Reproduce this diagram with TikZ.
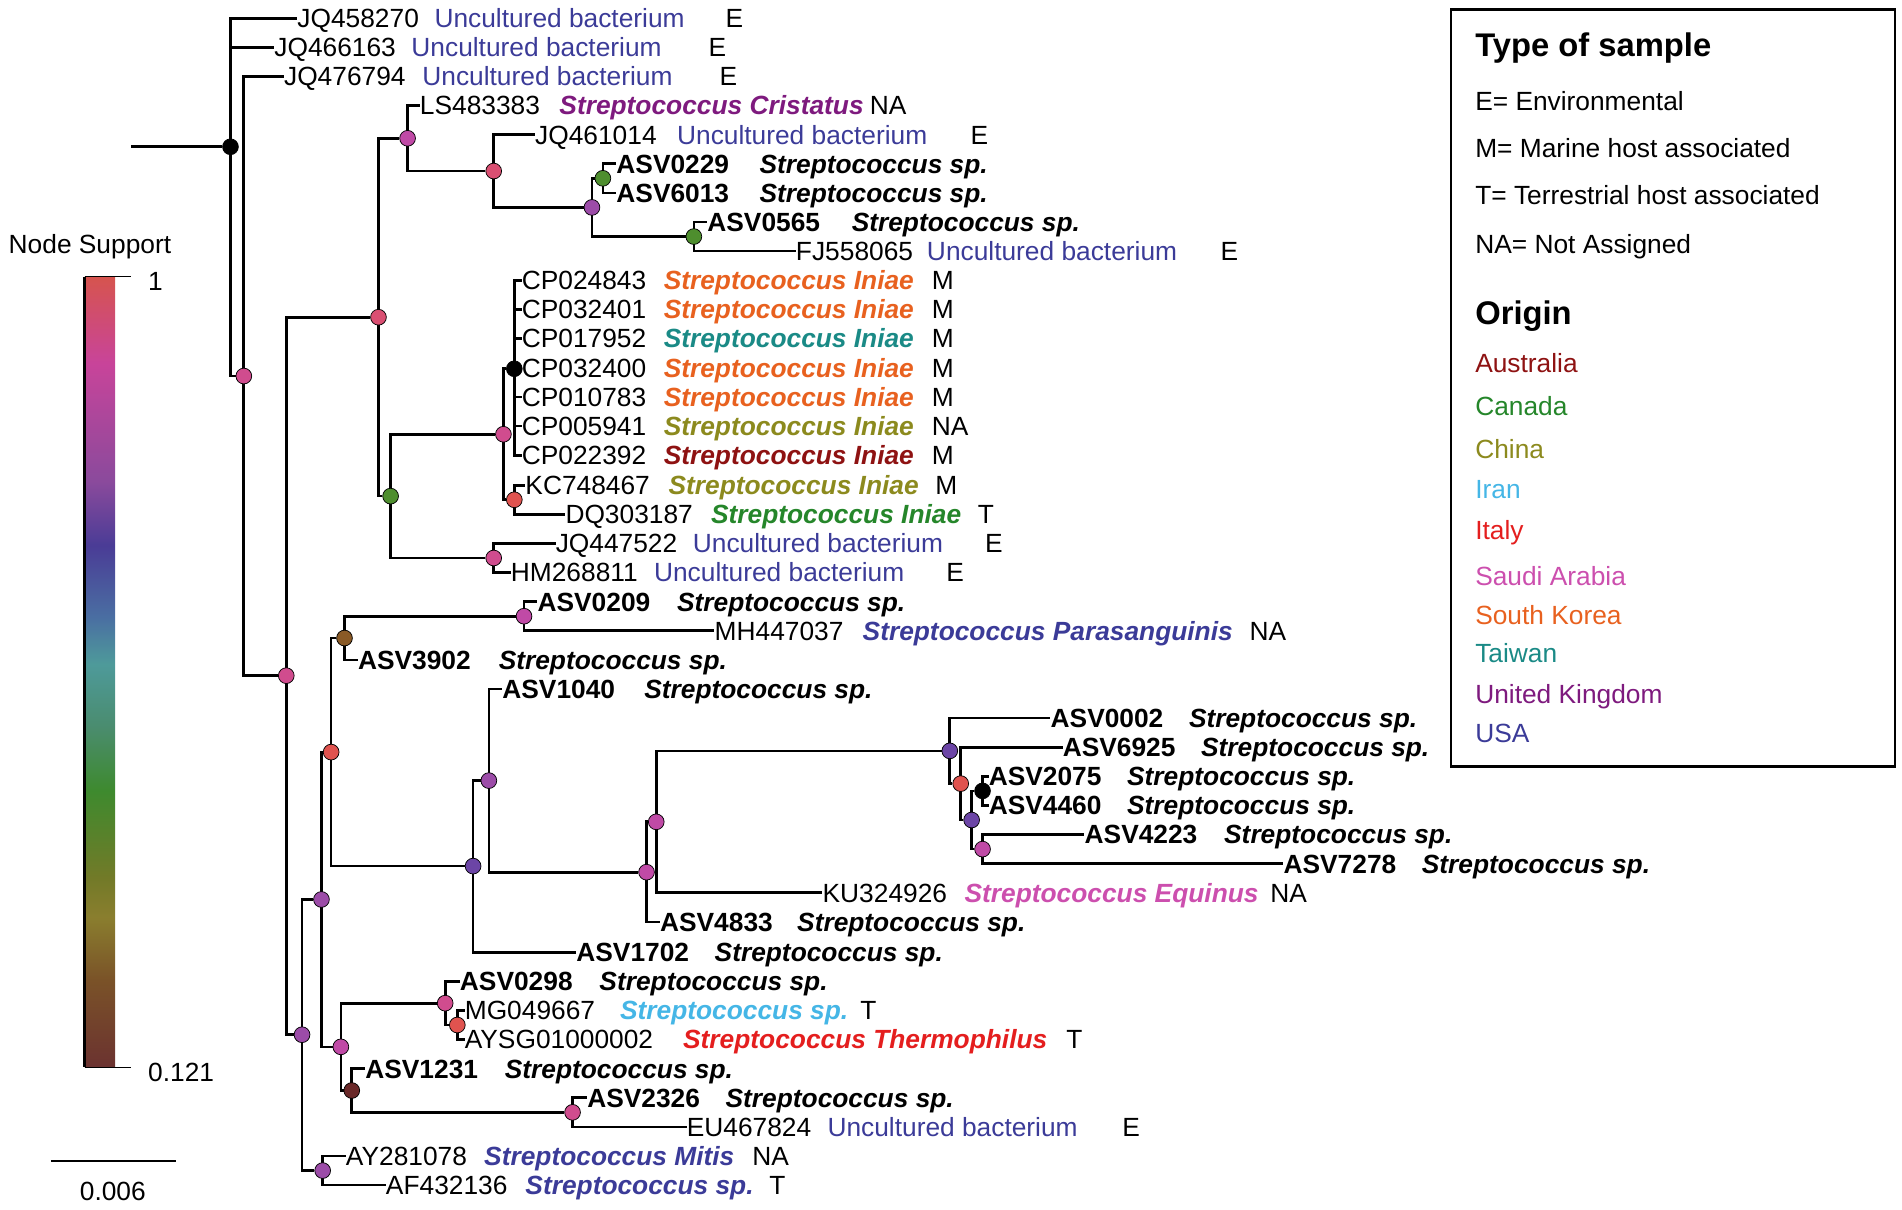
\documentclass[tikz,border=0pt]{standalone}
\usepackage{fontspec}
\setmainfont{Liberation Sans}
\usetikzlibrary{backgrounds}

% colours of the origins
\definecolor{usa}{HTML}{3B3B98}
\definecolor{uk}{HTML}{7E1A7E}
\definecolor{skorea}{HTML}{E8611F}
\definecolor{taiwan}{HTML}{1A8A86}
\definecolor{china}{HTML}{8C8A1E}
\definecolor{australia}{HTML}{8E1212}
\definecolor{canada}{HTML}{25862A}
\definecolor{iran}{HTML}{45B6E6}
\definecolor{italy}{HTML}{E41E1E}
\definecolor{saudi}{HTML}{CC4FAE}

% colours of the node support
\definecolor{sred}{HTML}{E0534F}
\definecolor{sros}{HTML}{DA4F72}
\definecolor{spink}{HTML}{D04C8E}
\definecolor{smag}{HTML}{C04AA6}
\definecolor{spur}{HTML}{9C4CA8}
\definecolor{svio}{HTML}{6C45A6}
\definecolor{sgreen}{HTML}{4E8E2E}
\definecolor{sbrown}{HTML}{8A5A26}
\definecolor{sdark}{HTML}{6A2828}

% colours of the support bar, bottom to top
\definecolor{sb0}{HTML}{6B3230}
\definecolor{sb1}{HTML}{7A5228}
\definecolor{sb2}{HTML}{8A7E2E}
\definecolor{sb3}{HTML}{727A28}
\definecolor{sb4}{HTML}{3E8A2E}
\definecolor{sb5}{HTML}{4A8C6E}
\definecolor{sb6}{HTML}{4E9A9A}
\definecolor{sb7}{HTML}{4A6EA2}
\definecolor{sb8}{HTML}{4A3C96}
\definecolor{sb9}{HTML}{8A4A9C}
\definecolor{sb10}{HTML}{C8449A}
\definecolor{sb11}{HTML}{D6544E}
\pgfdeclareverticalshading{supportbar}{100bp}{color(0bp)=(sb0); color(25bp)=(sb0);
  color(30.5bp)=(sb1); color(34.5bp)=(sb2); color(37bp)=(sb3); color(42.5bp)=(sb4);
  color(46.5bp)=(sb5); color(50.5bp)=(sb6); color(53.5bp)=(sb7); color(58bp)=(sb8);
  color(62bp)=(sb9); color(69.5bp)=(sb10); color(75bp)=(sb11); color(100bp)=(sb11)}

\newcommand{\labfont}{\fontsize{21.7}{26}\selectfont}
\newcommand{\headfont}{\fontsize{27}{32}\selectfont\bfseries}

\tikzset{
  branch/.style={line width=2.2pt},
  supp/.style={circle, draw=black, line width=0.6pt, fill=#1, minimum size=13pt, inner sep=0pt},
  tip/.style={anchor=west, inner sep=0pt, text height=15.5pt, text depth=0pt, font=\labfont},
  asv/.style={tip, font=\labfont\bfseries},
  spec/.style={tip, font=\labfont\bfseries\itshape, text=#1},
  spec/.default=black,
  uncult/.style={tip, text=usa},
  legtitle/.style={anchor=west, inner sep=0pt, text height=19.5pt, text depth=0pt, font=\headfont},
  legitem/.style={tip, text=#1},
  legitem/.default=black,
}

\begin{document}
\begin{tikzpicture}[x=1pt, y=-1pt]
    \useasboundingbox (0,0) rectangle (1568,997);

    % Internal nodes, filled by their support
    \node[supp=black]  (root)  at (190,121) {};
    \node[supp=spink]  (nA)    at (201,310) {};
    \node[supp=spink]  (nB)    at (236,557) {};
    \node[supp=sros]   (nC)    at (312,261.5) {};
    \node[supp=smag]   (nD)    at (336,114) {};
    \node[supp=sros]   (nF)    at (407,141) {};
    \node[supp=spur]   (nG)    at (488,171) {};
    \node[supp=sgreen] (nH)    at (497,147) {};
    \node[supp=sgreen] (nI)    at (572,195) {};
    \node[supp=sgreen] (nE)    at (322,409) {};
    \node[supp=spink]  (nJ)    at (415,358) {};
    \node[supp=black]  (nCP)   at (424,304) {};
    \node[supp=sred]   (nKC)   at (424,412) {};
    \node[supp=spink]  (nL)    at (407,460) {};
    \node[supp=spur]   (nK)    at (249,853) {};
    \node[supp=spur]   (nM)    at (265,741.5) {};
    \node[supp=sred]   (nN)    at (273,620) {};
    \node[supp=sbrown] (nBr)   at (284,526) {};
    \node[supp=smag]   (nAS)   at (432,508) {};
    \node[supp=svio]   (n1702) at (390,714) {};
    \node[supp=spur]   (n1040) at (403,643.5) {};
    \node[supp=smag]   (nPk)   at (533,719) {};
    \node[supp=smag]   (nMg)   at (541,677.5) {};
    \node[supp=svio]   (nV)    at (783,619) {};
    \node[supp=sred]   (nR)    at (792,646) {};
    \node[supp=svio]   (nQ)    at (801,676) {};
    \node[supp=black]  (n2075) at (810,652) {};
    \node[supp=smag]   (n4223) at (810,700) {};
    \node[supp=smag]   (nO)    at (281,863) {};
    \node[supp=spink]  (n0298) at (367,827) {};
    \node[supp=sred]   (nTh)   at (377,845) {};
    \node[supp=sdark]  (n1231) at (290,899) {};
    \node[supp=spink]  (n2326) at (472,917) {};
    \node[supp=spur]   (nZ)    at (266,965) {};
    \coordinate (stem) at (108,121);

    % Tips: accession, species, type of sample
    \node[tip] (JQ458270) at (245,15) {JQ458270};
    \node[uncult] (JQ458270-sp) at (358,15) {Uncultured bacterium};
    \node[tip] (JQ458270-ty) at (598,15) {E};
    \node[tip] (JQ466163) at (226,39) {JQ466163};
    \node[uncult] (JQ466163-sp) at (339,39) {Uncultured bacterium};
    \node[tip] (JQ466163-ty) at (584,39) {E};
    \node[tip] (JQ476794) at (234,63) {JQ476794};
    \node[uncult] (JQ476794-sp) at (348,63) {Uncultured bacterium};
    \node[tip] (JQ476794-ty) at (593,63) {E};
    \node[tip] (LS483383) at (346,87) {LS483383};
    \node[spec=uk] (LS483383-sp) at (461,87) {Streptococcus Cristatus};
    \node[tip] (LS483383-ty) at (717,87) {NA};
    \node[tip] (JQ461014) at (441,111) {JQ461014};
    \node[uncult] (JQ461014-sp) at (558,111) {Uncultured bacterium};
    \node[tip] (JQ461014-ty) at (800,111) {E};
    \node[asv] (ASV0229) at (508,135) {ASV0229};
    \node[spec] (ASV0229-sp) at (626,135) {Streptococcus sp.};
    \node[asv] (ASV6013) at (508,159) {ASV6013};
    \node[spec] (ASV6013-sp) at (626,159) {Streptococcus sp.};
    \node[asv] (ASV0565) at (583,183) {ASV0565};
    \node[spec] (ASV0565-sp) at (702,183) {Streptococcus sp.};
    \node[tip] (FJ558065) at (656,207) {FJ558065};
    \node[uncult] (FJ558065-sp) at (764,207) {Uncultured bacterium};
    \node[tip] (FJ558065-ty) at (1006,207) {E};
    \foreach \acc/\col/\ty [count=\i from 0] in {CP024843/skorea/M, CP032401/skorea/M,
        CP017952/taiwan/M, CP032400/skorea/M, CP010783/skorea/M, CP005941/china/NA,
        CP022392/australia/M} {
        \node[tip] (\acc) at (430,{231+24.05*\i}) {\acc};
        \node[spec=\col] (\acc-sp) at (547,{231+24.05*\i}) {Streptococcus Iniae};
        \node[tip] (\acc-ty) at (768,{231+24.05*\i}) {\ty};
    }
    \node[tip] (KC748467) at (433,400) {KC748467};
    \node[spec=china] (KC748467-sp) at (551,400) {Streptococcus Iniae};
    \node[tip] (KC748467-ty) at (771,400) {M};
    \node[tip] (DQ303187) at (466,424) {DQ303187};
    \node[spec=canada] (DQ303187-sp) at (586,424) {Streptococcus Iniae};
    \node[tip] (DQ303187-ty) at (806,424) {T};
    \node[tip] (JQ447522) at (458,448) {JQ447522};
    \node[uncult] (JQ447522-sp) at (571,448) {Uncultured bacterium};
    \node[tip] (JQ447522-ty) at (812,448) {E};
    \node[tip] (HM268811) at (421,472) {HM268811};
    \node[uncult] (HM268811-sp) at (539,472) {Uncultured bacterium};
    \node[tip] (HM268811-ty) at (780,472) {E};
    \node[asv] (ASV0209) at (443,496) {ASV0209};
    \node[spec] (ASV0209-sp) at (558,496) {Streptococcus sp.};
    \node[tip] (MH447037) at (589,520) {MH447037};
    \node[spec=usa] (MH447037-sp) at (711,520) {Streptococcus Parasanguinis};
    \node[tip] (MH447037-ty) at (1030,520) {NA};
    \node[asv] (ASV3902) at (295,544) {ASV3902};
    \node[spec] (ASV3902-sp) at (411,544) {Streptococcus sp.};
    \node[asv] (ASV1040) at (414,568) {ASV1040};
    \node[spec] (ASV1040-sp) at (531,568) {Streptococcus sp.};
    \node[asv] (ASV0002) at (866,592) {ASV0002};
    \node[spec] (ASV0002-sp) at (980,592) {Streptococcus sp.};
    \node[asv] (ASV6925) at (876,616) {ASV6925};
    \node[spec] (ASV6925-sp) at (990,616) {Streptococcus sp.};
    \node[asv] (ASV2075) at (815,640) {ASV2075};
    \node[spec] (ASV2075-sp) at (929,640) {Streptococcus sp.};
    \node[asv] (ASV4460) at (815,664) {ASV4460};
    \node[spec] (ASV4460-sp) at (929,664) {Streptococcus sp.};
    \node[asv] (ASV4223) at (894,688) {ASV4223};
    \node[spec] (ASV4223-sp) at (1009,688) {Streptococcus sp.};
    \node[asv] (ASV7278) at (1058,712) {ASV7278};
    \node[spec] (ASV7278-sp) at (1172,712) {Streptococcus sp.};
    \node[tip] (KU324926) at (678,736) {KU324926};
    \node[spec=saudi] (KU324926-sp) at (795,736) {Streptococcus Equinus};
    \node[tip] (KU324926-ty) at (1047,736) {NA};
    \node[asv] (ASV4833) at (544,760) {ASV4833};
    \node[spec] (ASV4833-sp) at (657,760) {Streptococcus sp.};
    \node[asv] (ASV1702) at (475,785) {ASV1702};
    \node[spec] (ASV1702-sp) at (589,785) {Streptococcus sp.};
    \node[asv] (ASV0298) at (379,809) {ASV0298};
    \node[spec] (ASV0298-sp) at (494,809) {Streptococcus sp.};
    \node[tip] (MG049667) at (383,833) {MG049667};
    \node[spec=iran] (MG049667-sp) at (511,833) {Streptococcus sp.};
    \node[tip] (MG049667-ty) at (709,833) {T};
    \node[tip] (AYSG01000002) at (383,857) {AYSG01000002};
    \node[spec=italy] (AYSG01000002-sp) at (563,857) {Streptococcus Thermophilus};
    \node[tip] (AYSG01000002-ty) at (879,857) {T};
    \node[asv] (ASV1231) at (301,881) {ASV1231};
    \node[spec] (ASV1231-sp) at (416,881) {Streptococcus sp.};
    \node[asv] (ASV2326) at (484,905) {ASV2326};
    \node[spec] (ASV2326-sp) at (598,905) {Streptococcus sp.};
    \node[tip] (EU467824) at (566,929) {EU467824};
    \node[uncult] (EU467824-sp) at (682,929) {Uncultured bacterium};
    \node[tip] (EU467824-ty) at (925,929) {E};
    \node[tip] (AY281078) at (285,953) {AY281078};
    \node[spec=usa] (AY281078-sp) at (399,953) {Streptococcus Mitis};
    \node[tip] (AY281078-ty) at (620,953) {NA};
    \node[tip] (AF432136) at (318,977) {AF432136};
    \node[spec=usa] (AF432136-sp) at (433,977) {Streptococcus sp.};
    \node[tip] (AF432136-ty) at (634,977) {T};

    % Branches, behind the nodes
    \begin{scope}[on background layer]
        \draw[branch] (stem) -- (root);
        \foreach \p/\c in {root/JQ458270, root/JQ466163, root/nA, nA/JQ476794, nA/nB,
            nB/nC, nB/nK, nC/nD, nC/nE, nD/LS483383, nD/nF, nF/JQ461014, nF/nG,
            nG/nH, nG/nI, nH/ASV0229, nH/ASV6013, nI/ASV0565, nI/FJ558065,
            nE/nJ, nE/nL, nJ/nCP, nJ/nKC, nCP/CP024843, nCP/CP032401, nCP/CP017952,
            nCP/CP032400, nCP/CP010783, nCP/CP005941, nCP/CP022392,
            nKC/KC748467, nKC/DQ303187, nL/JQ447522, nL/HM268811,
            nK/nM, nK/nZ, nM/nN, nM/nO, nN/nBr, nN/n1702, nBr/nAS, nBr/ASV3902,
            nAS/ASV0209, nAS/MH447037, n1702/n1040, n1702/ASV1702,
            n1040/ASV1040, n1040/nPk, nPk/nMg, nPk/ASV4833, nMg/nV, nMg/KU324926,
            nV/ASV0002, nV/nR, nR/ASV6925, nR/nQ, nQ/n2075, nQ/n4223,
            n2075/ASV2075, n2075/ASV4460, n4223/ASV4223, n4223/ASV7278,
            nO/n0298, nO/n1231, n0298/ASV0298, n0298/nTh, nTh/MG049667,
            nTh/AYSG01000002, n1231/ASV1231, n1231/n2326, n2326/ASV2326,
            n2326/EU467824, nZ/AY281078, nZ/AF432136}
            \draw[branch] (\p.center) |- (\c);
    \end{scope}

    % Colour bar of the node support
    \node[tip] (suphead) at (7,201) {Node Support};
    \shade[shading=supportbar] (70,228) rectangle (95,880);
    \draw[line width=2.5pt] (70,228) -- (70,880);
    \draw[line width=1.5pt] (70,228) -- (108,228);
    \draw[line width=1.5pt] (70,880) -- (108,880);
    \node[tip] (supmax) at (122,232) {1};
    \node[tip] (supmin) at (122,884) {0.121};

    % Scale bar
    \draw[line width=1.5pt] (42,957) -- (145,957);
    \node[tip, anchor=center] (scale) at (93,982) {0.006};

    % Legend
    \draw[line width=2pt] (1196,8) rectangle (1562,632);
    \node[legtitle] (typehead) at (1216,37) {Type of sample};
    \node[legitem] (typeE) at (1216,83) {E= Environmental};
    \node[legitem] (typeM) at (1216,122) {M= Marine host associated};
    \node[legitem] (typeT) at (1216,161) {T= Terrestrial host associated};
    \node[legitem] (typeNA) at (1216,201) {NA= Not Assigned};
    \node[legtitle] (orighead) at (1216,258) {Origin};
    \node[legitem=australia] (oAus) at (1216,299) {Australia};
    \node[legitem=canada] (oCan) at (1216,335) {Canada};
    \node[legitem=china] (oChi) at (1216,370) {China};
    \node[legitem=iran] (oIra) at (1216,403) {Iran};
    \node[legitem=italy] (oIta) at (1216,437) {Italy};
    \node[legitem=saudi] (oSau) at (1216,475) {Saudi Arabia};
    \node[legitem=skorea] (oKor) at (1216,507) {South Korea};
    \node[legitem=taiwan] (oTai) at (1216,538) {Taiwan};
    \node[legitem=uk] (oUK) at (1216,572) {United Kingdom};
    \node[legitem=usa] (oUSA) at (1216,604) {USA};
\end{tikzpicture}
\end{document}
